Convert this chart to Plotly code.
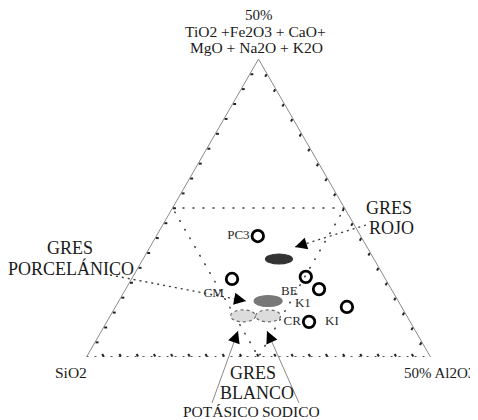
import math
import plotly.graph_objects as go

# ---------------- data (normalized diagram coordinates, %) ----------------
sample_names = ["PC3", "CM", "BE", "K1", "KI", "CR"]
sample_oxides = [40.6, 26.2, 26.9, 22.8, 16.8, 11.8]    # top corner: TiO2+Fe2O3+CaO+MgO+Na2O+K2O
sample_silica = [29.9, 44.6, 22.8, 21.0, 15.9, 29.4]    # left corner: SiO2
sample_alumina = [29.5, 29.2, 50.3, 56.2, 67.3, 58.8]   # right corner: Al2O3

field_names = ["GRES ROJO", "GRES PORCELÁNICO", "GRES BLANCO POTÁSICO", "GRES BLANCO SODICO"]
field_oxides = [32.9, 18.8, 13.8, 13.8]
field_silica = [27.6, 37.8, 47.6, 40.3]
field_alumina = [39.5, 43.4, 38.6, 45.9]

corner_top = ["50%", "TiO2 +Fe2O3 + CaO+", "MgO + Na2O + K2O"]
corner_left = "SiO2"
corner_right = "50% Al2O3"

# ---------------- styles / geometry ----------------
label_positions = ["middle left", "bottom left", "bottom left", "bottom left", "bottom left", "middle left"]
field_fill = ["#333333", "#787878", "#dcdcdc", "#dcdcdc"]
field_line = ["#333333", "#787878", "#666666", "#666666"]
field_dash = ["solid", "solid", "dot", "dot"]
field_w_px = [27, 28, 25, 25]
field_h_px = [10, 11, 12, 12]

OFF = 8                      # page body margin of the browser
WIN_W, WIN_H = 478, 420
W, H = WIN_W - OFF, WIN_H - OFF
TRI_L, TRI_R, TRI_BASE = 86.5, 430.5, 357.0   # screen pixels
TRI_W = TRI_R - TRI_L
TRI_H = TRI_W * math.sqrt(3) / 2
TRI_TOP = TRI_BASE - TRI_H


def px(x, y):
    return (x - OFF) / W, 1 - (y - OFF) / H


dom_x = [px(TRI_L, 0)[0], px(TRI_R, 0)[0]]
dom_y = [px(0, TRI_BASE)[1], px(0, TRI_TOP)[1]]

SERIF = "Liberation Serif, Times New Roman, serif"
INK = "#1a1a1a"

fig = go.Figure()

# frame: dotted base and dotted medial triangle
fig.add_trace(go.Scatterternary(
    a=[0, 0], b=[100, 0], c=[0, 100], mode="lines",
    line=dict(color="#222", width=1.5, dash="2px,6px"), hoverinfo="skip", showlegend=False))
fig.add_trace(go.Scatterternary(
    a=[50, 50, 0, 50], b=[50, 0, 50, 50], c=[0, 50, 50, 0], mode="lines",
    line=dict(color="#333", width=1.4, dash="2px,8px"), hoverinfo="skip", showlegend=False))

# samples
fig.add_trace(go.Scatterternary(
    a=sample_oxides, b=sample_silica, c=sample_alumina,
    mode="markers+text", text=sample_names, textposition=label_positions,
    textfont=dict(family=SERIF, size=13, color="#2a2a2a"),
    marker=dict(symbol="circle-open", size=11.5, color="black", line=dict(width=2.8, color="black")),
    hoverinfo="text", showlegend=False, cliponaxis=False))

# overlay cartesian axes for the composition fields (ellipses)
fx = [(c + a / 2) / 100 for a, c in zip(field_oxides, field_alumina)]
fy = [a / 100 for a in field_oxides]
fig.add_trace(go.Scatter(x=fx, y=fy, mode="markers", marker=dict(size=1, opacity=0),
                         text=field_names, hoverinfo="text", showlegend=False))

shapes = []
for i in range(len(field_names)):
    hw = field_w_px[i] / TRI_W / 2
    hh = field_h_px[i] / TRI_H / 2
    shapes.append(dict(type="circle", xref="x", yref="y", layer="above",
                       x0=fx[i] - hw, x1=fx[i] + hw, y0=fy[i] - hh, y1=fy[i] + hh,
                       fillcolor=field_fill[i],
                       line=dict(color=field_line[i], width=1.2, dash=field_dash[i])))

annotations = []


def text(x, y, s, size):
    X, Y = px(x, y)
    annotations.append(dict(x=X, y=Y, xref="paper", yref="paper", text=s, showarrow=False,
                            xanchor="center", yanchor="middle",
                            font=dict(family=SERIF, size=size, color=INK)))


def arrow(tail, tip, color, dash, width, head_len=13):
    X0, Y0 = px(*tail)
    X1, Y1 = px(*tip)
    shapes.append(dict(type="line", xref="paper", yref="paper", x0=X0, y0=Y0, x1=X1, y1=Y1,
                       layer="above", line=dict(color=color, width=width, dash=dash)))
    dx, dy = tail[0] - tip[0], tail[1] - tip[1]
    n = math.hypot(dx, dy)
    annotations.append(dict(x=X1, y=Y1, xref="paper", yref="paper", text="", showarrow=True,
                            ax=dx / n * head_len, ay=dy / n * head_len,
                            arrowhead=2, arrowsize=1.5, arrowwidth=1.6, arrowcolor="black", standoff=0))


# corner labels
text(259, 15, corner_top[0], 15)
text(255, 32, corner_top[1], 15.5)
text(256, 48, corner_top[2], 15.5)
text(71, 372, corner_left, 15.5)
text(439, 373, corner_right, 15)

# field labels
text(389, 208, "GRES", 18)
text(391, 228, "ROJO", 18)
text(70, 248, "GRES", 18)
text(71, 268, "PORCELÁNICO", 18)
text(253, 373, "GRES", 18)
text(257, 393, "BLANCO", 18)
text(221, 411, "POTÁSICO", 15.5)
text(291, 411, "SODICO", 15.5)

# arrows
arrow((366, 225), (295, 247), "#333", "2px,4px", 1.3)
arrow((110, 275), (246, 301), "#333", "2px,4px", 1.3)
arrow((212, 403), (238, 331), "#8a8a8a", "solid", 1)
arrow((299, 403), (267, 331), "#8a8a8a", "solid", 1)

axis_common = dict(showticklabels=False, showgrid=False, ticks="inside", ticklen=3,
                   tickcolor="#222", tickwidth=1.5, dtick=5, linecolor="#8a8a8a",
                   linewidth=1, title=dict(text=""))

fig.update_layout(
    width=W, height=H,
    margin=dict(l=0, r=0, t=0, b=0),
    paper_bgcolor="white", plot_bgcolor="rgba(0,0,0,0)",
    showlegend=False,
    ternary=dict(
        sum=100, domain=dict(x=dom_x, y=dom_y), bgcolor="rgba(0,0,0,0)",
        aaxis=dict(showline=True, **axis_common),
        baxis=dict(showline=False, **axis_common),
        caxis=dict(showline=True, **axis_common),
    ),
    xaxis=dict(domain=dom_x, range=[0, 1], visible=False, fixedrange=True),
    yaxis=dict(domain=dom_y, range=[0, 1], visible=False, fixedrange=True),
    shapes=shapes,
    annotations=annotations,
)

fig.write_html("out.html", config=dict(displayModeBar=False))
